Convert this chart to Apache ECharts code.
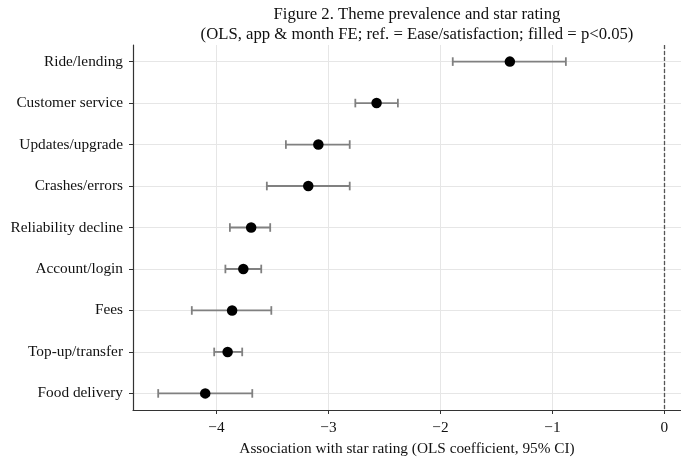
<!DOCTYPE html>
<html>
<head>
<meta charset="utf-8">
<script src="https://cdn.jsdelivr.net/npm/echarts@6/dist/echarts.min.js"></script>
<style>
    html, body { margin: 0; padding: 0; background: #fff; }
    #chart { width: 681px; height: 461px; }
</style>
</head>
<body>
<div id="chart"></div>
<script>
// themes, top to bottom
const themes = ["Ride/lending", "Customer service", "Updates/upgrade", "Crashes/errors", "Reliability decline", "Account/login", "Fees", "Top-up/transfer", "Food delivery"];
const coef = [-1.38, -2.57, -3.09, -3.18, -3.69, -3.76, -3.86, -3.90, -4.10];
const ciLow = [-1.89, -2.76, -3.38, -3.55, -3.88, -3.92, -4.22, -4.02, -4.52];
const ciHigh = [-0.88, -2.38, -2.81, -2.81, -3.52, -3.60, -3.51, -3.77, -3.68];
const xTicks = [-4, -3, -2, -1, 0];

const serif = "'Liberation Serif', 'Times New Roman', serif";
const rowIdx = themes.map((_, i) => i);

const chart = echarts.init(document.getElementById("chart"));
chart.setOption({
    animation: false,
    title: {
        text: "Figure 2. Theme prevalence and star rating\n(OLS, app & month FE; ref. = Ease/satisfaction; filled = p<0.05)",
        left: 412,
        textAlign: "center",
        top: -1,
        textStyle: { fontFamily: serif, fontSize: 16.7, fontWeight: "normal", color: "#111", lineHeight: 20.5 },
    },
    grid: { left: 133, right: 0, top: 45, height: 365.5 },
    xAxis: {
        type: "value",
        min: -4.745,
        max: 0.148,
        name: "Association with star rating (OLS coefficient, 95% CI)",
        nameLocation: "middle",
        nameGap: 31,
        nameTextStyle: { fontFamily: serif, fontSize: 15.3, color: "#111" },
        axisLine: { show: true, onZero: false, lineStyle: { color: "#333", width: 1.2 } },
        axisTick: { show: true, customValues: xTicks, length: 4, lineStyle: { color: "#333", width: 1 } },
        axisLabel: {
            customValues: xTicks,
            fontFamily: serif, fontSize: 15.3, color: "#111", margin: 10,
            formatter: (v) => (v < 0 ? "\u2212" + Math.abs(v) : String(v)),
        },
        splitLine: { show: true, lineStyle: { color: "#e6e6e6", width: 1 } },
    },
    yAxis: {
        type: "value",
        inverse: true,
        min: -0.4,
        max: 8.4,
        axisLine: { show: true, onZero: false, lineStyle: { color: "#333", width: 1.2 } },
        axisTick: { show: true, customValues: rowIdx, length: 4, lineStyle: { color: "#333", width: 1 } },
        axisLabel: {
            customValues: rowIdx,
            fontFamily: serif, fontSize: 15.3, color: "#111", margin: 10,
            formatter: (v) => themes[Math.round(v)] || "",
        },
        splitLine: { show: true, lineStyle: { color: "#e6e6e6", width: 1 } },
    },
    series: [
        {
            type: "custom",
            data: themes.map((_, i) => [ciLow[i], ciHigh[i], i]),
            encode: { x: [0, 1], y: 2 },
            renderItem: (params, api) => {
                const a = api.coord([api.value(0), api.value(2)]);
                const b = api.coord([api.value(1), api.value(2)]);
                const cap = 4.3;
                const style = { stroke: "#808080", lineWidth: 1.8 };
                return {
                    type: "group",
                    children: [
                        { type: "line", shape: { x1: a[0], y1: a[1], x2: b[0], y2: b[1] }, style },
                        { type: "line", shape: { x1: a[0], y1: a[1] - cap, x2: a[0], y2: a[1] + cap }, style },
                        { type: "line", shape: { x1: b[0], y1: b[1] - cap, x2: b[0], y2: b[1] + cap }, style },
                    ],
                };
            },
            z: 2,
        },
        {
            type: "scatter",
            data: coef.map((c, i) => [c, i]),
            symbol: "circle",
            symbolSize: 10.5,
            itemStyle: { color: "#000", opacity: 1 },
            z: 3,
            markLine: {
                silent: true,
                symbol: "none",
                label: { show: false },
                lineStyle: { color: "#555", type: [4, 2], width: 1.3 },
                data: [{ xAxis: 0 }],
            },
        },
    ],
});
</script>
</body>
</html>
